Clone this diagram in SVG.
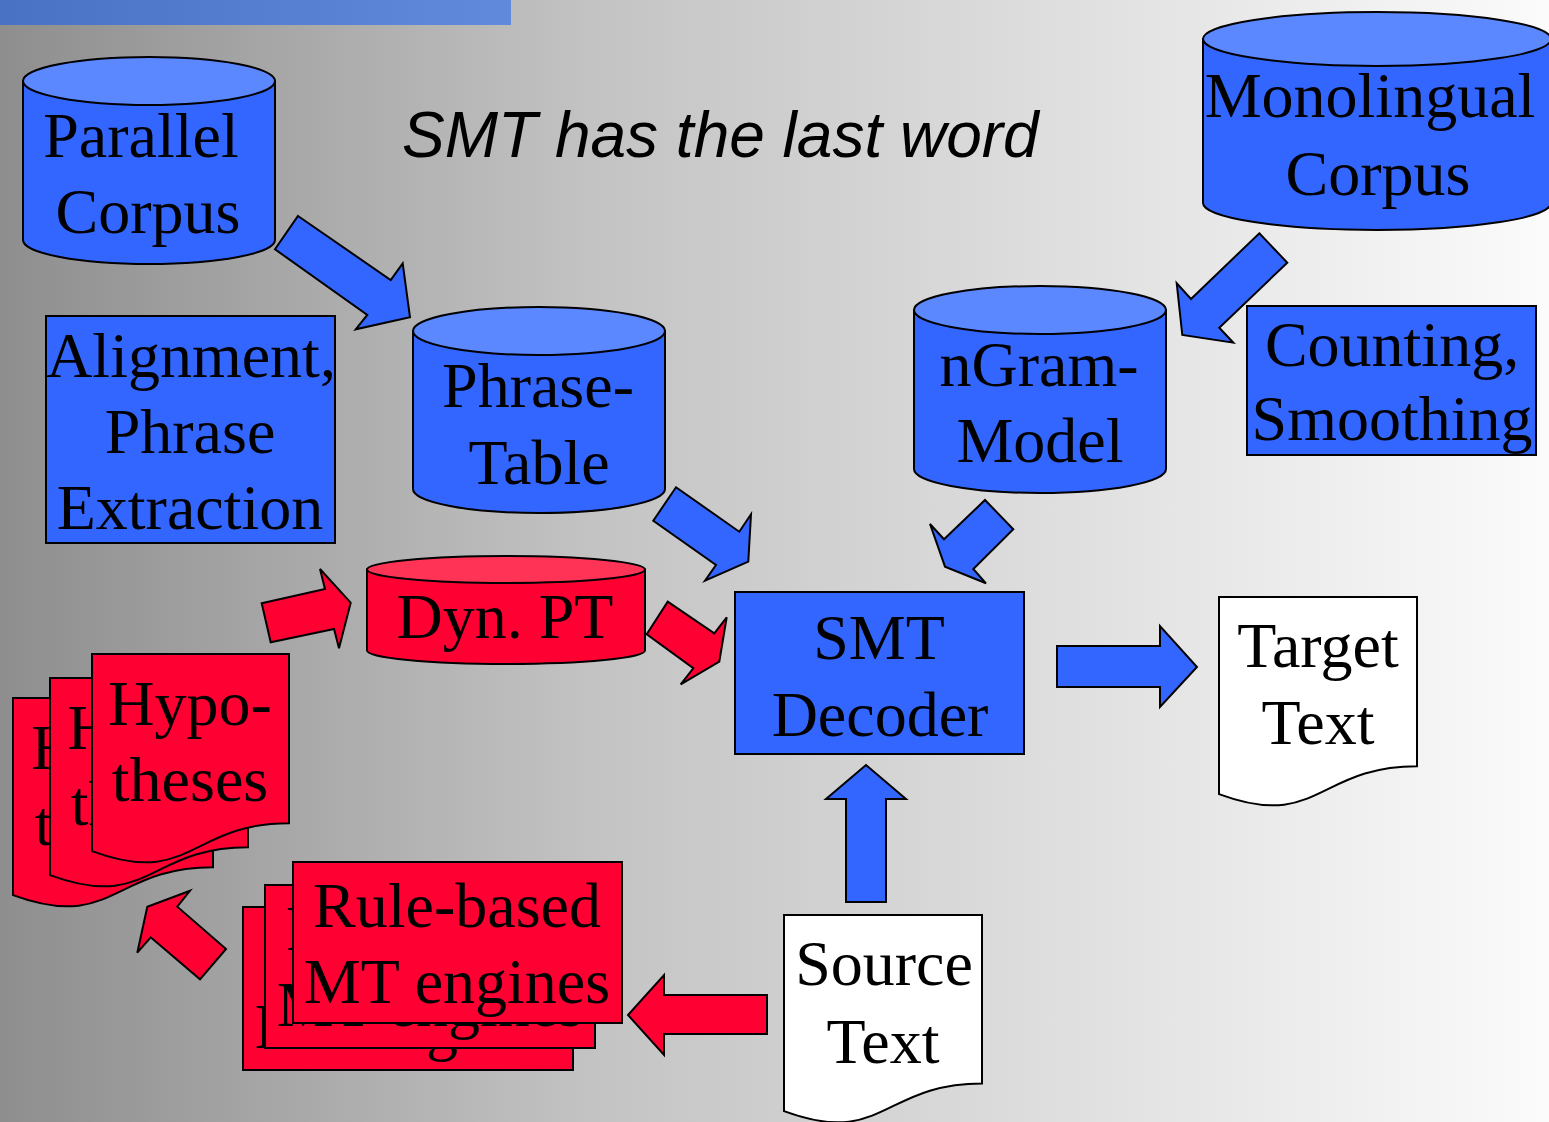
<svg xmlns="http://www.w3.org/2000/svg" width="1549" height="1122" viewBox="0 0 1549 1122">
<defs>
<linearGradient id="bg" x1="0" y1="0" x2="1" y2="0">
<stop offset="0" stop-color="#8e8e8e"/>
<stop offset="0.39" stop-color="#c4c4c4"/>
<stop offset="1" stop-color="#fbfbfb"/>
</linearGradient>
<linearGradient id="bar" x1="0" y1="0" x2="1" y2="0">
<stop offset="0" stop-color="#4a72c4"/>
<stop offset="1" stop-color="#6189dc"/>
</linearGradient>
<style>
.b{fill:#3366ff;stroke:#000;stroke-width:2;stroke-linejoin:miter}
.bt{fill:#5b87ff;stroke:#000;stroke-width:2}
.r{fill:#ff0033;stroke:#000;stroke-width:2;stroke-linejoin:miter}
.rt{fill:#ff3355;stroke:#000;stroke-width:2}
.w{fill:#fff;stroke:#000;stroke-width:2}
.t{font-family:"Liberation Serif","Times New Roman",serif;font-size:64px;fill:#000;text-anchor:middle}
.title{font-family:"Liberation Sans",Arial,sans-serif;font-style:italic;font-size:64px;fill:#000}
</style>
</defs>
<rect x="0" y="0" width="1549" height="1122" fill="url(#bg)"/>
<rect x="0" y="0" width="511" height="25" fill="url(#bar)"/>
<text class="title" x="402" y="157">SMT has the last word</text>

<g id="connectors">
<polygon class="b" points="298,216 390.7,280 402.7,263.3 410,317.3 355.7,329.3 367.3,315 275,249.3"/>
<polygon class="b" points="1259.3,233.3 1287.3,262.7 1219.3,327.7 1233.3,342.7 1182.3,335 1176.7,283.3 1191,299"/>
<polygon class="b" points="676,487.3 739.3,531.7 751,514.3 748.3,561.7 705,580.7 716,565 653.3,520.7"/>
<polygon class="b" points="985,500 1013.3,529.3 973.3,569 986,583.3 945,566.7 930,524 944,539.3"/>
<polygon class="r" points="667.7,601.7 714.3,633.3 726.7,617.3 719.3,661.7 680.7,684.3 693.3,668.3 646.7,634.3"/>
<polygon class="r" points="261.7,603.3 325,589 320,569 350.7,602.7 339,648.3 334,629 270.7,642.3"/>
<polygon class="r" points="226,949 177.3,906.7 190,890.7 147.3,906.7 137.3,952.7 150.7,937.3 200,979.3"/>
<polygon class="b" points="846,902 846,799 826,799 866,765 906,799 886,799 886,902"/>
<polygon class="b" points="1057,646 1160,646 1160,626 1197,667 1160,707 1160,687 1057,687"/>
<polygon class="r" points="767,995 664,995 664,975 628,1015 664,1055 664,1034 767,1034"/>
</g>

<g id="parallel-corpus">
<path class="b" d="M23,81 V240 A126,24 0 0 0 275,240 V81 Z"/>
<ellipse class="bt" cx="149" cy="81" rx="126" ry="24"/>
<text class="t" x="141" y="157">Parallel</text>
<text class="t" x="148" y="233">Corpus</text>
</g>

<g id="alignment">
<rect class="b" x="46" y="316" width="289" height="227"/>
<text class="t" x="191" y="377">Alignment,</text>
<text class="t" x="190" y="453">Phrase</text>
<text class="t" x="190" y="529">Extraction</text>
</g>

<g id="phrase-table">
<path class="b" d="M413,331 V489 A126,24 0 0 0 665,489 V331 Z"/>
<ellipse class="bt" cx="539" cy="331" rx="126" ry="24"/>
<text class="t" x="538" y="407">Phrase-</text>
<text class="t" x="539" y="484">Table</text>
</g>

<g id="ngram-model">
<path class="b" d="M914,310 V469 A126,24 0 0 0 1166,469 V310 Z"/>
<ellipse class="bt" cx="1040" cy="310" rx="126" ry="24"/>
<text class="t" x="1039" y="386">nGram-</text>
<text class="t" x="1040" y="462">Model</text>
</g>

<g id="monolingual-corpus">
<path class="b" d="M1203,39 V203 A174,27 0 0 0 1551,203 V39 Z"/>
<ellipse class="bt" cx="1377" cy="39" rx="174" ry="27"/>
<text class="t" x="1370" y="117">Monolingual</text>
<text class="t" x="1378" y="195">Corpus</text>
</g>

<g id="counting">
<rect class="b" x="1247" y="306" width="289" height="149"/>
<text class="t" x="1392" y="366">Counting,</text>
<text class="t" x="1392" y="440">Smoothing</text>
</g>

<g id="dyn-pt">
<path class="r" d="M367,569.5 V650.5 A139,13.5 0 0 0 645,650.5 V569.5 Z"/>
<ellipse class="rt" cx="506" cy="569.5" rx="139" ry="13.5"/>
<text class="t" x="505" y="638">Dyn. PT</text>
</g>

<g id="smt-decoder">
<rect class="b" x="735" y="592" width="289" height="162"/>
<text class="t" x="879" y="659">SMT</text>
<text class="t" x="880" y="736">Decoder</text>
</g>

<g id="target-text">
<path class="w" d="M1219,597 H1417 V766.2 C1318,766.2 1318,830.8 1219,794.1 Z"/>
<text class="t" x="1318" y="667">Target</text>
<text class="t" x="1318" y="744">Text</text>
</g>

<g id="source-text">
<path class="w" d="M784,915 H982 V1083.4 C883,1083.4 883,1147.7 784,1111.1 Z"/>
<text class="t" x="884" y="985">Source</text>
<text class="t" x="883" y="1063">Text</text>
</g>

<g id="hypotheses">
<path class="r" d="M13,698 H213 V867.2 C113,867.2 113,931.8 13,895.1 Z"/>
<text class="t" x="113" y="769">Hypo-</text>
<text class="t" x="113" y="845">theses</text>
<path class="r" d="M50,678 H248 V847.2 C149,847.2 149,911.8 50,875.1 Z"/>
<text class="t" x="149" y="749">Hypo-</text>
<text class="t" x="149" y="825">theses</text>
<path class="r" d="M92,654 H289 V823.2 C190.5,823.2 190.5,887.8 92,851.1 Z"/>
<text class="t" x="190" y="725">Hypo-</text>
<text class="t" x="190" y="801">theses</text>
</g>

<g id="rule-based">
<rect class="r" x="243" y="907" width="330" height="163"/>
<text class="t" x="408" y="972">Rule-based</text>
<text class="t" x="408" y="1048">MT engines</text>
<rect class="r" x="265" y="885" width="330" height="163"/>
<text class="t" x="430" y="950">Rule-based</text>
<text class="t" x="430" y="1026">MT engines</text>
<rect class="r" x="293" y="862" width="329" height="161"/>
<text class="t" x="457" y="927">Rule-based</text>
<text class="t" x="457" y="1003">MT engines</text>
</g>
</svg>
